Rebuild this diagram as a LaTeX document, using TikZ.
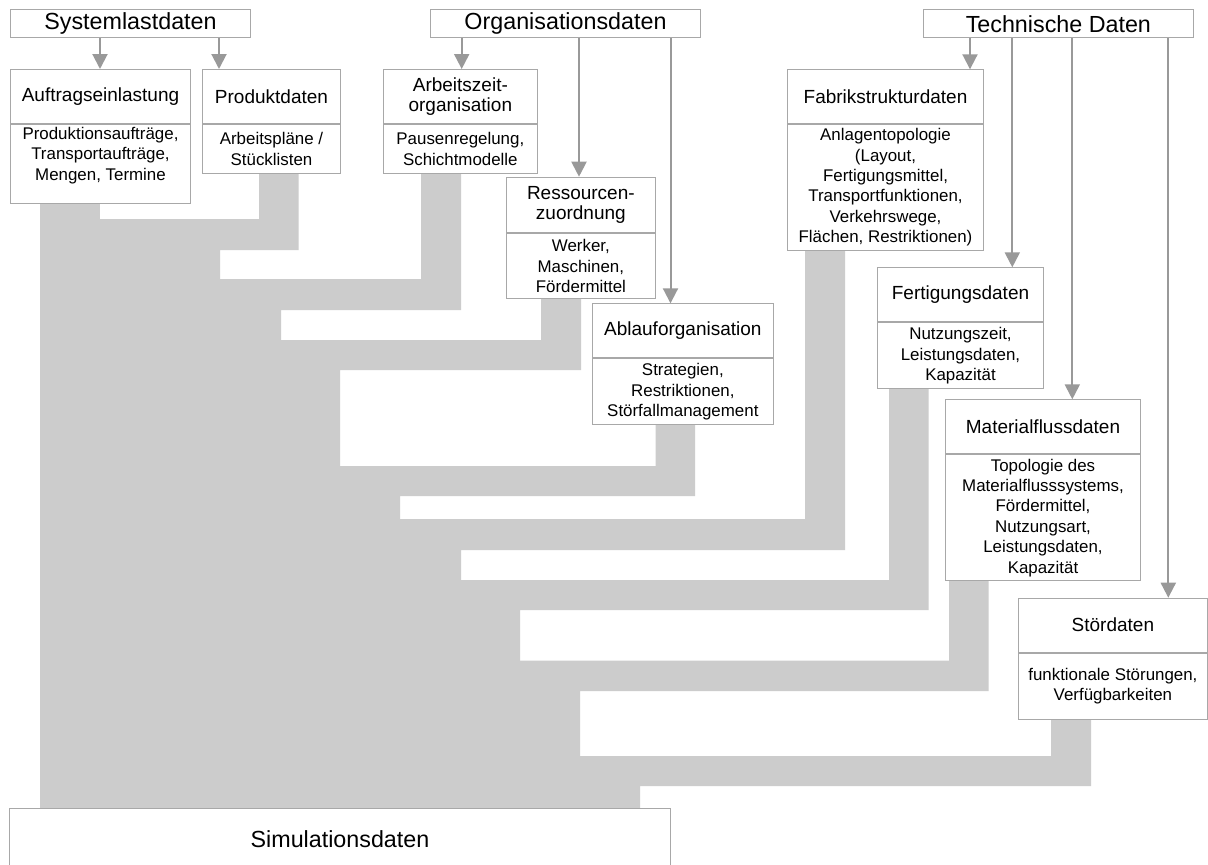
\documentclass[tikz,border=0pt]{standalone}
\usepackage{fontspec}
\setmainfont{Liberation Sans}
\usetikzlibrary{arrows.meta}
\definecolor{bandgray}{HTML}{CCCCCC}
\definecolor{linegray}{HTML}{A8A8A8}
\definecolor{arrowgray}{HTML}{999999}
\tikzset{
  boxbase/.style={draw=linegray, line width=1pt, fill=white, inner sep=0pt, align=center, anchor=north west},
  hdr/.style={boxbase, minimum height=28pt, font=\fontsize{23.3}{28}\selectfont},
  ttl/.style={boxbase, font=\fontsize{19}{20.5}\selectfont},
  bdy/.style={boxbase, font=\fontsize{16.9}{20.4}\selectfont},
  bdytext/.style={inner sep=0pt, align=center, font=\fontsize{16.9}{20.4}\selectfont},
  arr/.style={draw=arrowgray, line width=2pt, -{Triangle[width=15pt,length=15pt]}},
  band/.style={fill=bandgray, draw=none}
}
\begin{document}
\begin{tikzpicture}[x=1pt, y=-1pt]
\useasboundingbox[fill=white] (0,0) rectangle (1208,865);

% grey bands
\fill[band] (40,201) -- (100,201) -- (100,808) -- (40,808) -- cycle;
\fill[band] (259,172) -- (298.7,172) -- (298.7,250) -- (220,250) -- (220,808) -- (40,808) -- (40,219) -- (259,219) -- cycle;
\fill[band] (421,172) -- (461,172) -- (461,310) -- (281,310) -- (281,808) -- (40,808) -- (40,279) -- (421,279) -- cycle;
\fill[band] (541,297) -- (581,297) -- (581,370) -- (340,370) -- (340,808) -- (40,808) -- (40,340) -- (541,340) -- cycle;
\fill[band] (655.7,423) -- (695,423) -- (695,496) -- (400,496) -- (400,808) -- (40,808) -- (40,466) -- (655.7,466) -- cycle;
\fill[band] (805,249) -- (845,249) -- (845,550) -- (461,550) -- (461,808) -- (40,808) -- (40,519) -- (805,519) -- cycle;
\fill[band] (889,387) -- (928.7,387) -- (928.7,610) -- (520,610) -- (520,808) -- (40,808) -- (40,580) -- (889,580) -- cycle;
\fill[band] (949,579) -- (988.7,579) -- (988.7,691) -- (580,691) -- (580,808) -- (40,808) -- (40,660.7) -- (949,660.7) -- cycle;
\fill[band] (1051,717.7) -- (1091,717.7) -- (1091,786) -- (640,786) -- (640,808) -- (40,808) -- (40,756) -- (1051,756) -- cycle;

% header boxes
\node[hdr, minimum width=240pt] (sys) at (10,9.3) {Systemlastdaten};
\node[hdr, minimum width=270pt] (org) at (430,9.3) {Organisationsdaten};
\node[hdr, minimum width=270.3pt] (tec) at (922.7,9.3) {Technische Daten};

% Auftragseinlastung
\node[ttl, minimum width=180pt, minimum height=54pt] (auf) at (10,69) {Auftragseinlastung};
\node[bdy, minimum width=180pt, minimum height=78.5pt] (aufb) at (auf.south west) {};
\node[bdytext] (auft) at ([yshift=8.5pt]aufb.center) {Produktionsaufträge,\\Transportaufträge,\\Mengen, Termine};

% Produktdaten
\node[ttl, minimum width=138pt, minimum height=54pt] (prod) at (202,69) {Produktdaten};
\node[bdy, minimum width=138pt, minimum height=49pt] (prodb) at (prod.south west) {Arbeitspläne /\\Stücklisten};

% Arbeitszeitorganisation
\node[ttl, minimum width=154.3pt, minimum height=54.3pt] (arb) at (382.7,69) {Arbeitszeit-\\organisation};
\node[bdy, minimum width=154.3pt, minimum height=48.7pt] (arbb) at (arb.south west) {Pausenregelung,\\Schichtmodelle};

% Ressourcenzuordnung
\node[ttl, minimum width=149.3pt, minimum height=55pt] (res) at (505.7,176.7) {Ressourcen-\\zuordnung};
\node[bdy, minimum width=149.3pt, minimum height=65.6pt] (resb) at (res.south west) {Werker,\\Maschinen,\\Fördermittel};

% Ablauforganisation
\node[ttl, minimum width=180.7pt, minimum height=54pt] (abl) at (592,303.3) {Ablauforganisation};
\node[bdy, minimum width=180.7pt, minimum height=66pt] (ablb) at (abl.south west) {Strategien,\\Restriktionen,\\Störfallmanagement};

% Fabrikstrukturdaten
\node[ttl, minimum width=195.4pt, minimum height=53.4pt] (fab) at (787.3,69.3) {Fabrikstrukturdaten};
\node[bdy, minimum width=195.4pt, minimum height=126.3pt] (fabb) at (fab.south west) {Anlagentopologie\\(Layout,\\Fertigungsmittel,\\Transportfunktionen,\\Verkehrswege,\\Flächen, Restriktionen)};

% Fertigungsdaten
\node[ttl, minimum width=165.4pt, minimum height=53.7pt] (fer) at (877.3,267.3) {Fertigungsdaten};
\node[bdy, minimum width=165.4pt, minimum height=66.3pt] (ferb) at (fer.south west) {Nutzungszeit,\\Leistungsdaten,\\Kapazität};

% Materialflussdaten
\node[ttl, minimum width=195pt, minimum height=54pt] (mat) at (945,399.3) {Materialflussdaten};
\node[bdy, minimum width=195pt, minimum height=126pt] (matb) at (mat.south west) {Topologie des\\Materialflusssystems,\\Fördermittel,\\Nutzungsart,\\Leistungsdaten,\\Kapazität};

% Stoerdaten
\node[ttl, minimum width=188.2pt, minimum height=54pt] (stoer) at (1018.3,597.7) {Stördaten};
\node[bdy, minimum width=188.2pt, minimum height=66pt] (stoerb) at (stoer.south west) {funktionale Störungen,\\Verfügbarkeiten};

% Simulationsdaten
\begin{scope}
\clip (0,0) rectangle (1208,865);
\node[hdr, minimum width=661pt, minimum height=62pt] (sim) at (9,808) {Simulationsdaten};
\end{scope}

% arrow x positions
\coordinate (xa1) at (100,0);
\coordinate (xa2) at (219,0);
\coordinate (xo1) at (461.7,0);
\coordinate (xo2) at (579,0);
\coordinate (xo3) at (670.5,0);
\coordinate (xt1) at (970,0);
\coordinate (xt2) at (1012.3,0);
\coordinate (xt3) at (1072.3,0);
\coordinate (xt4) at (1168.3,0);

\draw[arr] (sys.south -| xa1) -- (auf.north -| xa1);
\draw[arr] (sys.south -| xa2) -- (prod.north -| xa2);
\draw[arr] (org.south -| xo1) -- (arb.north -| xo1);
\draw[arr] (org.south -| xo2) -- (res.north -| xo2);
\draw[arr] (org.south -| xo3) -- (abl.north -| xo3);
\draw[arr] (tec.south -| xt1) -- (fab.north -| xt1);
\draw[arr] (tec.south -| xt2) -- (fer.north -| xt2);
\draw[arr] (tec.south -| xt3) -- (mat.north -| xt3);
\draw[arr] (tec.south -| xt4) -- (stoer.north -| xt4);
\end{tikzpicture}
\end{document}
